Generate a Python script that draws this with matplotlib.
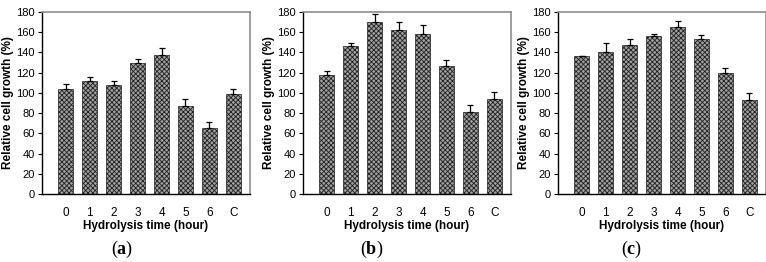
import matplotlib
matplotlib.use("Agg")
from matplotlib import pyplot as plt

plt.rcParams['font.family'] = ['Liberation Sans', 'DejaVu Sans']
plt.rcParams['hatch.linewidth'] = 0.6
plt.rcParams['mathtext.fontset'] = 'custom'
plt.rcParams['mathtext.rm'] = 'Liberation Serif'
plt.rcParams['mathtext.bf'] = 'Liberation Serif:bold'

# hydrolysis time categories
times = ["0", "1", "2", "3", "4", "5", "6", "C"]

# relative cell growth (%) and error, one pair per panel
growth_a = [104, 112, 108, 130, 137, 87, 65, 99]
err_a = [5, 4, 4, 4, 7, 7, 6, 5]
growth_b = [118, 146, 170, 162, 158, 127, 81, 94]
err_b = [4, 3, 8, 8, 9, 6, 7, 7]
growth_c = [136, 140, 147, 156, 165, 153, 120, 93]
err_c = [0, 9, 6, 2, 6, 4, 5, 7]
labels = ["a", "b", "c"]

fig = plt.figure(figsize=(7.66, 2.62), dpi=100)
W, H = 766.0, 262.0
lefts = [42, 303, 558]
panel_w = 208
label_x = [122, 372, 632]

for i, (vals, errs) in enumerate([(growth_a, err_a), (growth_b, err_b), (growth_c, err_c)]):
    ax = fig.add_axes([lefts[i] / W, 1 - 194 / H, panel_w / W, (194 - 12) / H])
    x = list(range(len(times)))
    ax.bar(x, vals, width=0.63, color='#a0a0a0', edgecolor='#202020',
           hatch='xxxxxxx', linewidth=0.5, zorder=2)
    ax.errorbar(x, vals, yerr=[[0] * len(errs), errs], fmt='none',
                ecolor='black', elinewidth=0.9, capsize=2.5, capthick=0.9, zorder=3)
    ax.set_xlim(-1.0, 7.7)
    ax.set_ylim(0, 180)
    ax.set_yticks(range(0, 181, 20))
    ax.set_xticks(x)
    ax.set_xticklabels(times)
    ax.tick_params(axis='x', length=0, pad=9, labelsize=8.5)
    ax.tick_params(axis='y', length=3, width=0.8, pad=2, labelsize=8)
    for s in ['top', 'right']:
        ax.spines[s].set_color('#8c8c8c')
        ax.spines[s].set_linewidth(1.2)
    for s in ['left', 'bottom']:
        ax.spines[s].set_color('black')
        ax.spines[s].set_linewidth(1.0)
    ax.set_xlabel("Hydrolysis time (hour)", fontsize=8.5, fontweight='bold', labelpad=1)
    ax.set_ylabel("Relative cell growth (%)", fontsize=8.5, fontweight='bold', labelpad=2)
    fig.text(label_x[i] / W, 1 - 249 / H, r"($\mathbf{%s}$)" % labels[i],
             fontsize=13, ha='center', va='center', family='Liberation Serif')

fig.savefig("out.png", dpi=100)
